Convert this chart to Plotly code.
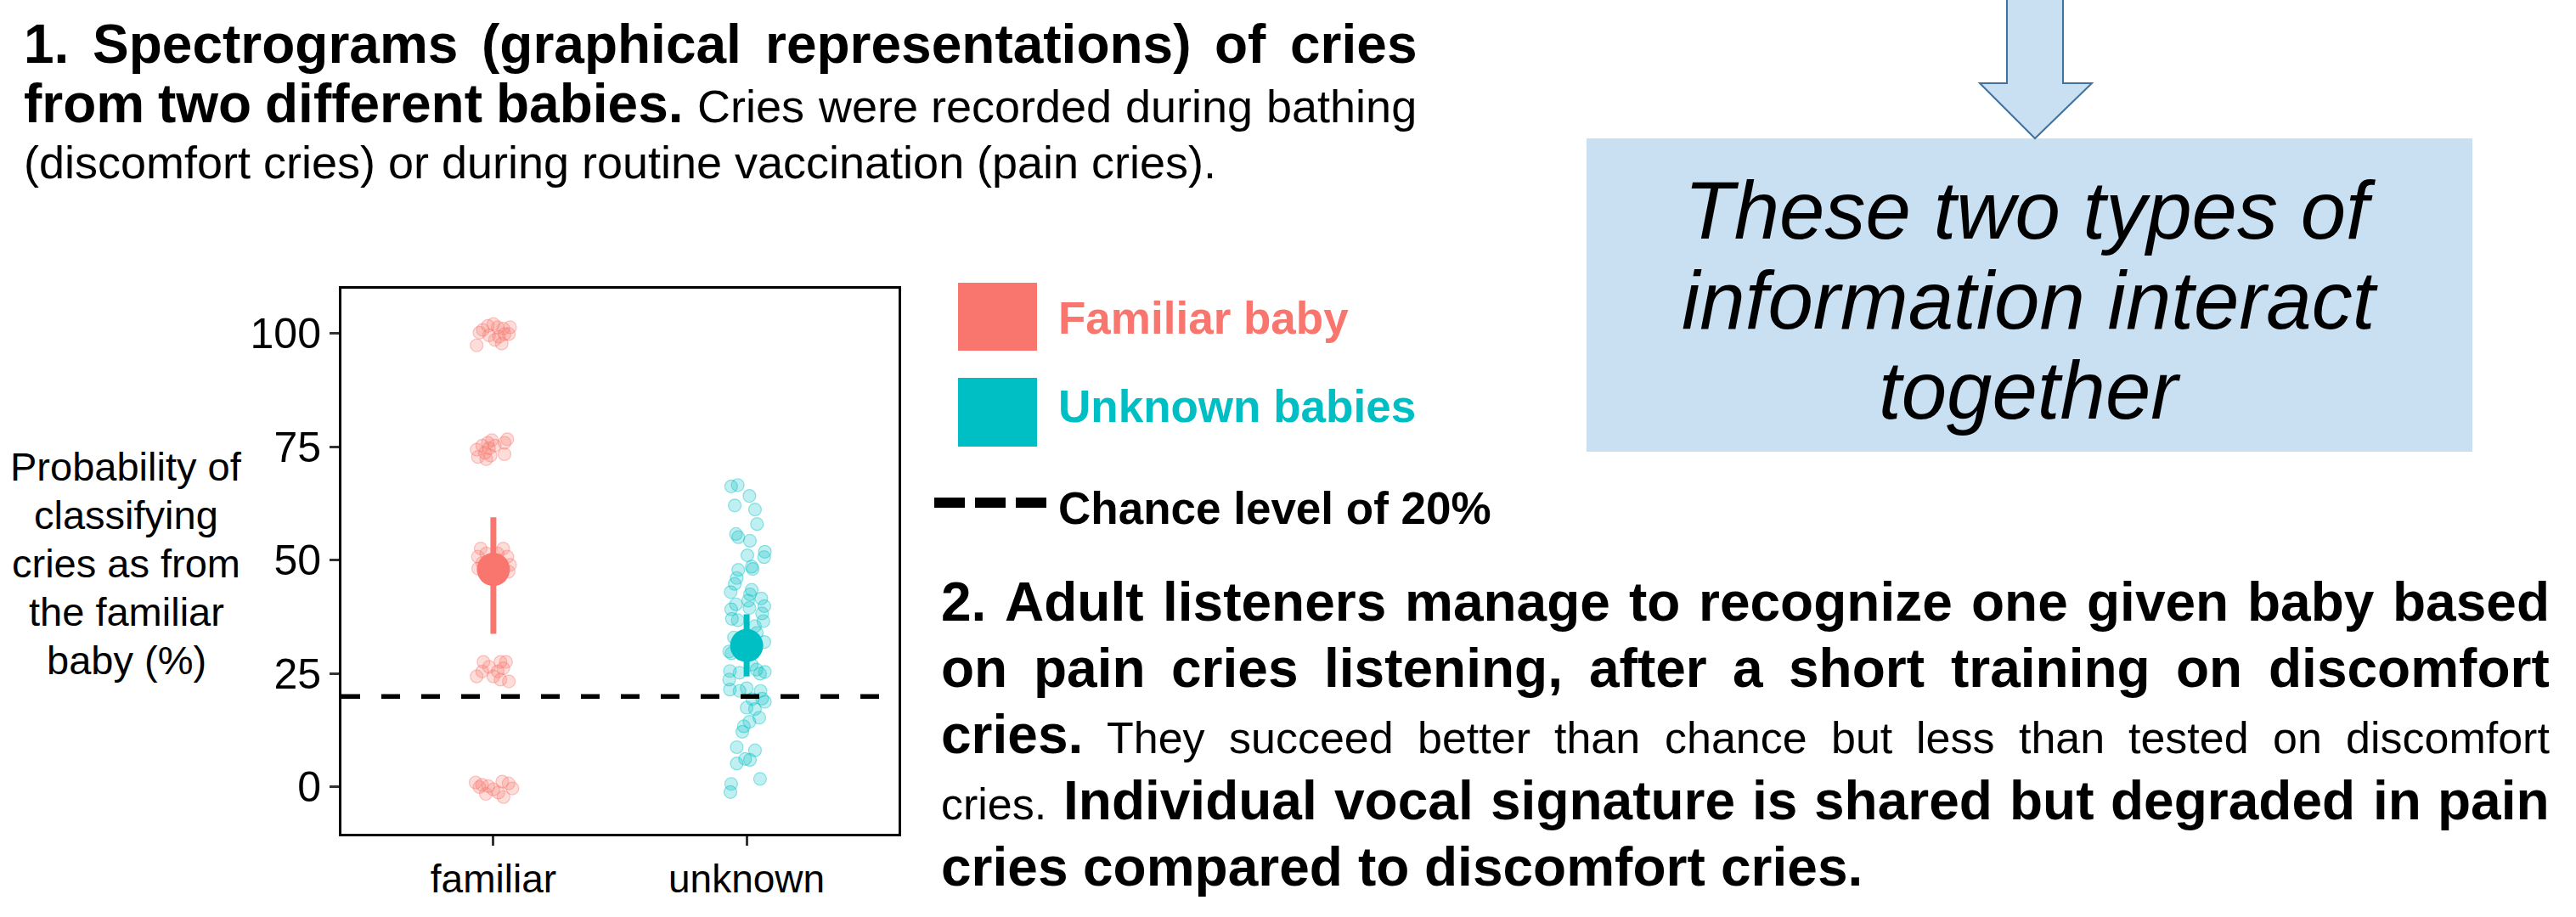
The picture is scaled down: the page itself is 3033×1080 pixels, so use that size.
import plotly.graph_objects as go

W, H = 3033, 1080

# ---------------- data ----------------
categories = ["familiar", "unknown"]
cat_pos = [1, 2]
y_ticks = [0, 25, 50, 75, 100]
chance_level = 20

fam_values = [97.4, 100.8, 101.7, 102.1, 101.4, 101.1, 101.4, 99.9, 99.9, 99.3, 98.6, 97.8, 99.6, 100.2,
              74.4, 72.8, 72.3, 75.3, 75.9, 76.5, 74.7, 75.3, 76.7, 75.9, 73.4, 73.1, 73.7,
              52.6, 50.8, 52.6, 50.8, 49.0, 51.5, 51.5, 49.4, 49.4, 47.5, 48.2,
              24.4, 25.5, 27.6, 26.5, 27.6, 27.6, 26.2, 25.5, 23.7, 23.3, 24.4,
              1.0, 0.5, 0.2, -0.5, -1.2, -2.2, 0.8, -0.3, 1.2, -1.5, 0.0]
fam_jitter = [-0.066, -0.042, -0.022, 0.0, 0.017, 0.039, 0.066, 0.061, 0.044, 0.022, 0.006, 0.033, -0.017, -0.055,
              -0.066, -0.061, -0.028, -0.044, -0.022, -0.006, -0.017, 0.006, 0.055, 0.044, 0.044, -0.011, -0.033,
              -0.05, -0.061, 0.039, 0.055, 0.066, 0.017, -0.028, -0.011, -0.044, 0.06, -0.06,
              -0.066, -0.044, -0.039, -0.017, 0.028, 0.05, 0.039, 0.017, 0.028, 0.061, 0.0,
              -0.07, -0.045, -0.02, 0.0, 0.02, 0.04, 0.06, 0.075, 0.035, -0.03, -0.055]

unk_values = [66.3, 66.6, 64.2, 62.1, 61.2, 58.0, 55.8, 55.1, 54.3, 51.9, 50.7, 51.1, 48.6, 48.1, 47.9,
              46.1, 44.8, 43.0, 43.5, 42.5, 41.1, 41.6, 39.9, 39.2, 40.3, 39.5, 38.3, 37.1, 36.8, 36.6,
              35.5, 29.9, 25.6, 25.2, 25.9, 25.4, 25.0, 23.7, 21.5, 21.2, 21.8, 21.2, 19.5, 18.8, 19.4,
              17.5, 17.2, 15.3, 14.4, 13.4, 12.2, 8.8, 8.1, 5.2, 6.2, 6.0, 1.8, 0.7, -1.1,
              29.5, 27.0, 33.0, 34.0, 32.0]
unk_jitter = [-0.061, -0.035, 0.011, -0.047, 0.033, 0.041, -0.042, -0.033, 0.013, 0.072, 0.069, 0.003, 0.02, 0.024, -0.033,
              -0.039, -0.047, -0.063, 0.02, 0.013, 0.006, 0.058, 0.07, -0.061, -0.042, 0.011, 0.061, -0.058, -0.035, 0.066,
              0.033, -0.069, -0.066, -0.028, 0.039, 0.072, 0.053, -0.069, -0.066, -0.028, 0.0, 0.055, 0.061, 0.072, 0.022,
              0.0, 0.033, 0.05, 0.011, -0.011, -0.017, -0.039, 0.033, -0.039, -0.006, 0.013, 0.053, -0.061, -0.064,
              -0.06, 0.02, -0.05, 0.04, 0.07]

mean_values = [48.0, 31.2]
ci_low = [33.8, 24.4]
ci_high = [59.5, 38.1]

colors = ["#F8766D", "#00BFC4"]
legend_labels = ["Familiar baby", "Unknown babies"]
chance_label = "Chance level of 20%"
y_title_lines = ["Probability of", "classifying", "cries as from", "the familiar", "baby (%)"]
box_lines = ["These two types of", "information interact", "together"]

sec1_lines = [
    [("1. Spectrograms (graphical representations) of cries", True)],
    [("from two different babies.", True), ("Cries were recorded during bathing", False)],
    [("(discomfort cries) or during routine vaccination (pain cries).", False)],
]
sec2_lines = [
    [("2. Adult listeners manage to recognize one given baby based", True)],
    [("on pain cries listening, after a short training on discomfort", True)],
    [("cries.", True), ("They succeed better than chance but less than tested on discomfort", False)],
    [("cries.", False), ("Individual vocal signature is shared but degraded in pain", True)],
    [("cries compared to discomfort cries.", True)],
]

FONT = "Liberation Sans, Arial, Helvetica, sans-serif"

# Arial / Liberation Sans advance widths (per 1000 em)
REG = {' ': 278, '(': 333, ')': 333, ',': 278, '.': 278, '%': 889, '-': 333}
REG.update({d: 556 for d in "0123456789"})
REG.update(dict(zip("ABCDEFGHIJKLMNOPQRSTUVWXYZ",
                    [667, 667, 722, 722, 667, 611, 778, 722, 278, 500, 667, 556, 833, 722, 778, 667, 778, 722, 667, 611, 722, 667, 944, 667, 667, 611])))
REG.update(dict(zip("abcdefghijklmnopqrstuvwxyz",
                    [556, 556, 500, 556, 556, 278, 556, 556, 222, 222, 500, 222, 833, 556, 556, 556, 556, 333, 500, 278, 556, 500, 722, 500, 500, 500])))
BOLD = {' ': 278, '(': 333, ')': 333, ',': 278, '.': 278, '%': 889, '-': 333}
BOLD.update({d: 556 for d in "0123456789"})
BOLD.update(dict(zip("ABCDEFGHIJKLMNOPQRSTUVWXYZ",
                     [722, 722, 722, 722, 667, 611, 778, 722, 278, 556, 722, 611, 833, 722, 778, 667, 778, 722, 667, 611, 722, 667, 944, 667, 667, 611])))
BOLD.update(dict(zip("abcdefghijklmnopqrstuvwxyz",
                     [556, 611, 556, 611, 556, 333, 611, 611, 278, 278, 556, 278, 889, 611, 611, 611, 611, 389, 556, 333, 611, 556, 778, 556, 556, 500])))


def tw(s, bold, size):
    t = BOLD if bold else REG
    return sum(t.get(c, 556) for c in s) / 1000.0 * size


def px(x):
    return x / W


def py(y):
    return 1 - y / H


annotations = []


def add_text(text, x, baseline, size, color="black", bold=False, italic=False, anchor="left"):
    t = text
    if bold:
        t = "<b>" + t + "</b>"
    if italic:
        t = "<i>" + t + "</i>"
    annotations.append(dict(
        text=t, x=px(x), y=py(baseline + 0.212 * size), xref="paper", yref="paper",
        xanchor=anchor, yanchor="bottom", showarrow=False, borderpad=0, borderwidth=0,
        font=dict(family=FONT, size=size, color=color)))


def justified_line(runs, x0, x1, baseline, bsize, rsize, justify=True):
    words = []
    for text, bold in runs:
        for w in text.split():
            words.append((w, bold))
    sizes = [bsize if b else rsize for _, b in words]
    widths = [tw(w, b, s) for (w, b), s in zip(words, sizes)]
    if justify and len(words) > 1:
        gap = (x1 - x0 - sum(widths)) / (len(words) - 1)
        x = x0
        for (w, b), s, wd in zip(words, sizes, widths):
            add_text(w, x, baseline, s, bold=b)
            x += wd + gap
    else:
        x = x0
        for (w, b), s, wd in zip(words, sizes, widths):
            add_text(w, x, baseline, s, bold=b)
            x += wd + tw(" ", b, s)


# Section 1 text
S1_BASE = [74, 144, 210]
for i, runs in enumerate(sec1_lines):
    justified_line(runs, 28, 1668, S1_BASE[i], 64, 54, justify=(i < 2))

# Section 2 text
S2_BASE = [731, 809, 887, 965, 1043]
for i, runs in enumerate(sec2_lines):
    justified_line(runs, 1108, 3002, S2_BASE[i], 64, 52, justify=(i < 4))

# y axis title (multi-line, centred)
for i, line in enumerate(y_title_lines):
    add_text(line, 148.5, 566 + 57 * i, 47, anchor="center")

# legend texts
add_text(legend_labels[0], 1246, 393, 53, color=colors[0], bold=True)
add_text(legend_labels[1], 1246, 497, 53, color=colors[1], bold=True)
add_text(chance_label, 1246, 617, 53, bold=True)

# blue box text
for i, line in enumerate(box_lines):
    add_text(line, 2389.5, 281 + 106 * i, 96, italic=True, anchor="center")

# ---------------- shapes ----------------
shapes = []
BOX_FILL = "#C9DFF2"
ARROW_LINE = "#41719C"
shapes.append(dict(type="rect", xref="paper", yref="paper",
                   x0=px(1868), x1=px(2911), y0=py(532), y1=py(163),
                   fillcolor=BOX_FILL, line=dict(width=0), layer="below"))
arrow_pts = [(2363, -5), (2429, -5), (2429, 98), (2463, 98), (2396, 163), (2331, 98), (2363, 98)]
path = "M " + " L ".join(f"{px(x):.6f},{py(y):.6f}" for x, y in arrow_pts) + " Z"
shapes.append(dict(type="path", xref="paper", yref="paper", path=path,
                   fillcolor=BOX_FILL, line=dict(color=ARROW_LINE, width=2), layer="below"))
# legend squares
shapes.append(dict(type="rect", xref="paper", yref="paper", x0=px(1128), x1=px(1221), y0=py(413), y1=py(333),
                   fillcolor=colors[0], line=dict(width=0)))
shapes.append(dict(type="rect", xref="paper", yref="paper", x0=px(1128), x1=px(1221), y0=py(526), y1=py(445),
                   fillcolor=colors[1], line=dict(width=0)))
# legend dashed line
shapes.append(dict(type="line", xref="paper", yref="paper", x0=px(1100), x1=px(1234), y0=py(592), y1=py(592),
                   line=dict(color="black", width=12, dash="36px,12px")))

# ---------------- traces ----------------
fig = go.Figure()
fig.add_trace(go.Scatter(
    x=[cat_pos[0] + j for j in fam_jitter], y=fam_values, mode="markers",
    marker=dict(size=15, color="rgba(248,118,109,0.25)", line=dict(color="rgba(248,118,109,0.4)", width=1.2)),
    showlegend=False, hoverinfo="skip"))
fig.add_trace(go.Scatter(
    x=[cat_pos[1] + j for j in unk_jitter], y=unk_values, mode="markers",
    marker=dict(size=15, color="rgba(0,191,196,0.25)", line=dict(color="rgba(0,191,196,0.4)", width=1.2)),
    showlegend=False, hoverinfo="skip"))
fig.add_trace(go.Scatter(
    x=[0.4, 2.6], y=[chance_level, chance_level], mode="lines",
    line=dict(color="black", width=5.5, dash="22px,25px"), showlegend=False, hoverinfo="skip"))
for i in range(2):
    fig.add_trace(go.Scatter(
        x=[cat_pos[i]], y=[mean_values[i]], mode="markers",
        marker=dict(size=39, color=colors[i]),
        error_y=dict(type="data", symmetric=False, array=[ci_high[i] - mean_values[i]],
                     arrayminus=[mean_values[i] - ci_low[i]], thickness=7, width=0, color=colors[i]),
        showlegend=False))

fig.update_layout(
    width=W, height=H, margin=dict(l=0, r=0, t=0, b=0),
    paper_bgcolor="white", plot_bgcolor="white",
    font=dict(family=FONT, color="black"),
    annotations=annotations, shapes=shapes,
    xaxis=dict(domain=[px(402), px(1058)], range=[0.4, 2.6], tickvals=cat_pos, ticktext=categories,
               showgrid=False, zeroline=False, showline=True, linecolor="black", linewidth=3, mirror=True,
               ticks="outside", ticklen=11, tickwidth=3, tickcolor="#333333",
               tickfont=dict(family=FONT, size=46, color="black")),
    yaxis=dict(domain=[py(982), py(340)], range=[-10.3, 109.9], tickvals=y_ticks,
               showgrid=False, zeroline=False, showline=True, linecolor="black", linewidth=3, mirror=True,
               ticks="outside", ticklen=11, tickwidth=3, tickcolor="#333333",
               tickfont=dict(family=FONT, size=50, color="black")),
)

fig.write_html("out.html", config={"displayModeBar": False},
               post_script="document.body.style.margin='0';")
